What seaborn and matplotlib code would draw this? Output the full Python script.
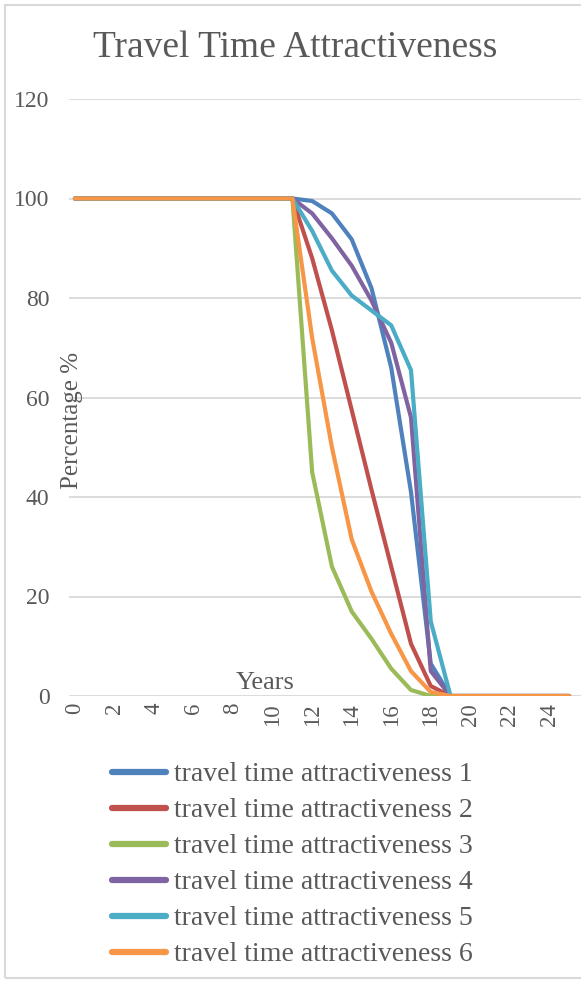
import matplotlib
matplotlib.use("Agg")
import matplotlib.pyplot as plt
from matplotlib.patches import Rectangle
import numpy as np
import pandas as pd
import seaborn as sns

sns.set_style("white")
plt.rcParams["font.family"] = ["Liberation Serif", "DejaVu Serif"]

# x categories: years 0..25
years = list(range(26))

# values (years 12..19 vary, before = 100, after = 0)
head = [100] * 12
tail = [0] * 6
tta1 = head + [99.5, 97, 91.8, 82, 66, 41, 6.5, 0] + tail
tta2 = head + [88, 73.5, 57.5, 41.5, 26, 10.5, 2, 0] + tail
tta3 = head + [45, 26, 17, 11.5, 5.5, 1.2, 0, 0] + tail
tta4 = head + [97, 92, 86.5, 79.5, 71, 56, 5, 0] + tail
tta5 = head + [93.5, 85.5, 80.5, 77.5, 74.5, 65.5, 15, 0] + tail
tta6 = head + [72, 50, 31.5, 21, 12.5, 5, 0.8, 0] + tail

series_names = ["travel time attractiveness %d" % i for i in range(1, 7)]
colors = ["#4F81BD", "#C0504D", "#9BBB59", "#8064A2", "#4BACC6", "#F79646"]

rows = []
for name, vals in zip(series_names, [tta1, tta2, tta3, tta4, tta5, tta6]):
    for x, y in zip(years, vals):
        rows.append({"year": x, "pct": y, "series": name})
df = pd.DataFrame(rows)

txt = "#595959"
W, H = 581, 983
fig = plt.figure(figsize=(W / 100, H / 100), dpi=100)
ax = fig.add_axes([69 / W, 1 - 696 / H, (W - 69) / W, (696 - 99) / H])

sns.lineplot(data=df, x="year", y="pct", hue="series", palette=colors,
             linewidth=3.0, ax=ax, legend=True)

ax.set_xlim(-0.3, 25.6)
ax.set_ylim(0, 120)
ax.set_yticks(range(0, 121, 20))
ax.set_xticks(range(0, 25, 2))
ax.set_xticklabels([str(v) for v in range(0, 25, 2)], rotation=90, fontsize=16.5, color=txt)
ax.tick_params(axis="y", labelsize=17, labelcolor=txt, length=0, pad=14)
ax.tick_params(axis="x", length=0, pad=5)
ax.grid(axis="y", color="#D9D9D9", linewidth=1.3)
ax.set_axisbelow(True)
for s in ax.spines.values():
    s.set_visible(False)
ax.set_xlabel("")
ax.set_ylabel("")

handles, labels = ax.get_legend_handles_labels()
ax.get_legend().remove()
for h in handles:
    h.set_linewidth(4.5)
    h.set_solid_capstyle("round")
fig.legend(handles, labels, loc="upper left", bbox_to_anchor=(87 / W, 1 - 737 / H),
           frameon=False, fontsize=20, handlelength=1.95, handletextpad=0.3,
           labelspacing=0.38, labelcolor=txt)

fig.text(93 / W, 1 - 48 / H, "Travel Time Attractiveness", fontsize=27, color=txt,
         ha="left", va="center")
fig.text(72 / W, 1 - 420 / H, "Percentage %", fontsize=18, color=txt,
         rotation=90, ha="center", va="center")
fig.text(265 / W, 1 - 683 / H, "Years", fontsize=19, color=txt,
         ha="center", va="center")

fig.patches.append(Rectangle((5 / W, 1 - 978 / H), 1.0, (978 - 5) / H,
                             transform=fig.transFigure, fill=False,
                             edgecolor="#D9D9D9", linewidth=1.5))

fig.savefig("out.png", dpi=100)
